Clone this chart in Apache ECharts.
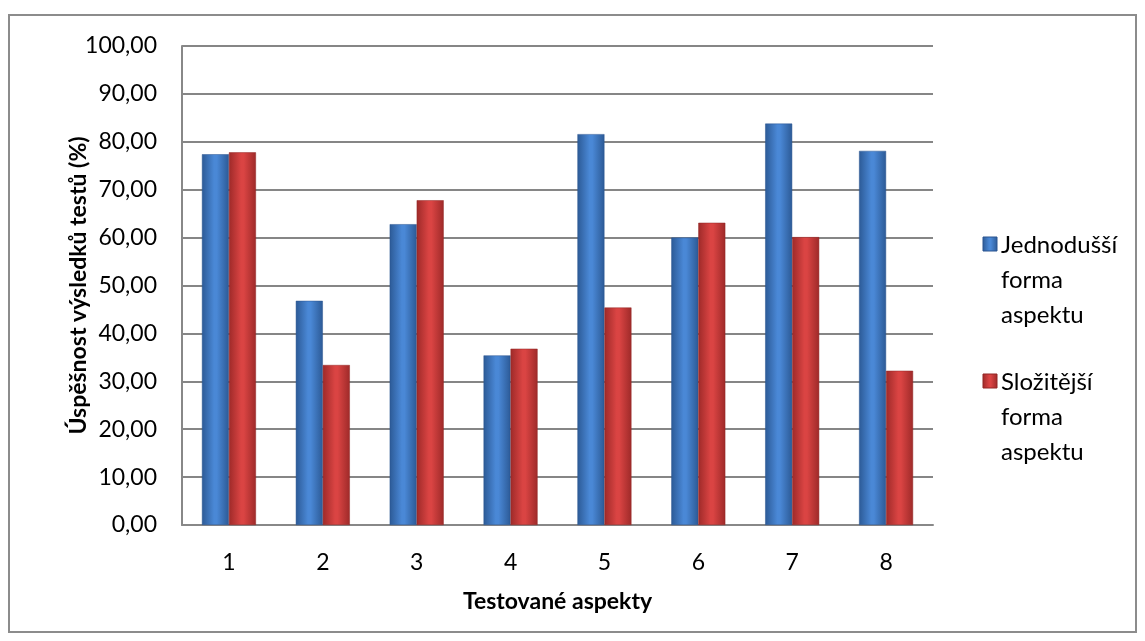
<!DOCTYPE html>
<html>
<head>
<meta charset="utf-8">
<script src="https://cdn.jsdelivr.net/npm/echarts@6/dist/echarts.min.js"></script>
<style>
  html, body { margin: 0; padding: 0; background: #fff; }
  #chart { width: 1145px; height: 641px; }
</style>
</head>
<body>
<div id="chart"></div>
<script>
var categories = ['1', '2', '3', '4', '5', '6', '7', '8'];
var simplerValues = [77.4, 46.8, 62.8, 35.4, 81.6, 60.0, 83.8, 78.1];
var complexValues = [77.8, 33.4, 67.8, 36.8, 45.4, 63.1, 60.1, 32.2];
var seriesNames = ['Jednodušší forma aspektu', 'Složitější forma aspektu'];
var legendLines = [['Jednodušší', 'forma', 'aspektu'], ['Složitější', 'forma', 'aspektu']];

var font = 'Lato, "Noto Sans", sans-serif';

function barGradient(edge, mid) {
  return new echarts.graphic.LinearGradient(0, 0, 1, 0, [
    { offset: 0, color: edge },
    { offset: 0.45, color: mid },
    { offset: 0.55, color: mid },
    { offset: 1, color: edge }
  ]);
}

var chart = echarts.init(document.getElementById('chart'));

var option = {
  backgroundColor: '#fff',
  animation: false,
  grid: { left: 182, right: 212, top: 46, bottom: 116 },
  xAxis: {
    type: 'category',
    data: categories,
    name: 'Testované aspekty',
    nameLocation: 'middle',
    nameGap: 65,
    nameMoveOverlap: false,
    nameTextStyle: { fontFamily: font, fontSize: 23, fontWeight: 'bold', color: '#000' },
    axisLine: { lineStyle: { color: '#888', width: 2 } },
    axisTick: { show: false },
    axisLabel: { fontFamily: font, fontSize: 23, color: '#000', margin: 26 }
  },
  yAxis: {
    type: 'value',
    min: 0,
    max: 100,
    interval: 10,
    name: 'Úspěšnost výsledků testů (%)',
    nameLocation: 'middle',
    nameRotate: 90,
    nameGap: 92,
    nameMoveOverlap: false,
    nameTextStyle: { fontFamily: font, fontSize: 23, fontWeight: 'bold', color: '#000' },
    axisLine: { show: true, lineStyle: { color: '#888', width: 2 } },
    axisTick: { show: false },
    axisLabel: {
      fontFamily: font, fontSize: 23, color: '#000', margin: 25,
      formatter: function (v) { return v.toFixed(2).replace('.', ','); }
    },
    splitLine: { lineStyle: { color: '#868686', width: 2 } }
  },
  series: [
    {
      name: seriesNames[0],
      type: 'bar',
      data: simplerValues,
      barWidth: 27,
      barGap: '0%',
      itemStyle: { color: barGradient('#2c5a96', '#4a88d6'), borderColor: '#2a5590', borderWidth: 0.5 }
    },
    {
      name: seriesNames[1],
      type: 'bar',
      data: complexValues,
      barWidth: 27,
      itemStyle: { color: barGradient('#9e2a29', '#da4443'), borderColor: '#922625', borderWidth: 0.5 }
    }
  ],
  graphic: [
    {
      type: 'rect',
      shape: { x: 9, y: 15, width: 1127, height: 617 },
      style: { fill: 'none', stroke: '#8c8c8c', lineWidth: 2 },
      silent: true
    },
    {
      type: 'rect',
      shape: { x: 983, y: 237, width: 14, height: 14 },
      style: { fill: barGradient('#2c5a96', '#4a88d6'), stroke: '#2a5590', lineWidth: 1 }
    },
    {
      type: 'text',
      style: {
        x: 1001, y: 228, text: legendLines[0].join('\n'),
        fontFamily: font, fontSize: 24, lineHeight: 35, fill: '#000'
      }
    },
    {
      type: 'rect',
      shape: { x: 983, y: 374, width: 14, height: 14 },
      style: { fill: barGradient('#9e2a29', '#da4443'), stroke: '#922625', lineWidth: 1 }
    },
    {
      type: 'text',
      style: {
        x: 1001, y: 365, text: legendLines[1].join('\n'),
        fontFamily: font, fontSize: 24, lineHeight: 35, fill: '#000'
      }
    }
  ]
};

chart.setOption(option);
</script>
</body>
</html>
